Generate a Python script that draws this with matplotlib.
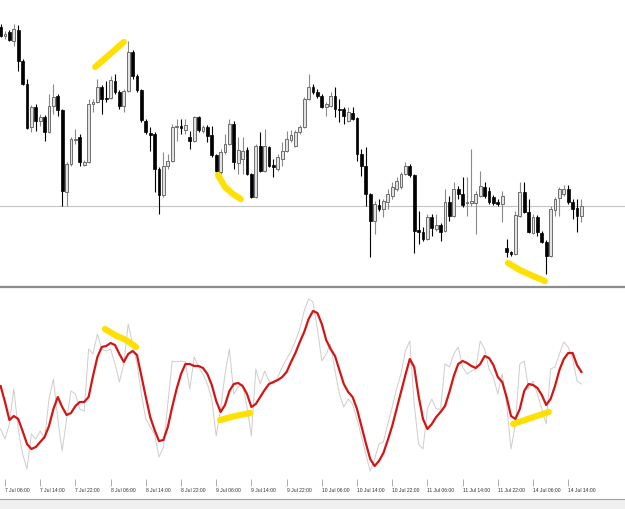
import numpy as np
import matplotlib
matplotlib.use('Agg')
import matplotlib.pyplot as plt
from matplotlib.lines import Line2D
from matplotlib.patches import Rectangle

# hourly candles, first one is 7 Jul 05:00 (price in points)
opens = [272, 263, 267, 258, 269, 238, 215, 172, 192, 178,
         182, 167, 193, 203, 189, 107, 135, 159, 162, 134,
         137, 195, 197, 212, 201, 201, 218, 207, 193, 208,
         247, 223, 209, 178, 166, 165, 130, 104, 133, 138,
         172, 173, 169, 162, 158, 182, 168, 172, 164, 144,
         127, 147, 155, 175, 136, 140, 149, 125, 102, 153,
         128, 152, 134, 130, 140, 148, 159, 153, 167, 172,
         200, 212, 207, 203, 192, 193, 203, 190, 190, 178,
         186, 181, 145, 133, 105, 78, 94, 90, 97, 103,
         110, 112, 125, 133, 124, 69, 67, 60, 82, 70,
         74, 68, 97, 83, 110, 105, 96, 96, 96, 103,
         112, 108, 102, 97, 95, 51, 47, 45, 83, 107,
         87, 66, 82, 66, 57, 43, 89, 101, 105, 110,
         97, 91, 83]
highs = [275, 268, 269, 275, 274, 240, 220, 194, 195, 185,
         184, 205, 215, 205, 190, 137, 162, 170, 165, 139,
         200, 200, 220, 214, 218, 223, 225, 209, 210, 258,
         249, 225, 210, 180, 172, 167, 132, 147, 145, 175,
         180, 180, 180, 168, 183, 183, 174, 174, 173, 145,
         150, 165, 180, 178, 162, 162, 152, 126, 155, 167,
         170, 153, 140, 145, 157, 168, 169, 169, 174, 202,
         225, 215, 210, 205, 197, 207, 212, 200, 192, 192,
         192, 182, 150, 152, 106, 98, 100, 100, 110, 117,
         122, 127, 137, 135, 125, 88, 72, 85, 85, 85,
         76, 110, 103, 117, 113, 122, 122, 150, 108, 128,
         117, 112, 104, 100, 108, 60, 48, 88, 117, 117,
         100, 85, 84, 68, 59, 93, 102, 112, 114, 114,
         100, 100, 100]
lows = [262, 260, 258, 253, 228, 214, 170, 167, 168, 173,
        158, 166, 185, 183, 93, 93, 133, 155, 133, 133,
        136, 187, 196, 185, 197, 200, 205, 190, 187, 207,
        220, 207, 177, 165, 148, 107, 85, 102, 130, 137,
        158, 165, 165, 150, 157, 167, 166, 157, 142, 127,
        125, 145, 154, 130, 125, 125, 124, 101, 101, 127,
        127, 132, 122, 128, 133, 147, 157, 152, 165, 171,
        199, 205, 201, 191, 183, 192, 182, 177, 175, 177,
        179, 138, 123, 93, 42, 65, 88, 82, 90, 100,
        108, 110, 124, 122, 46, 55, 58, 59, 63, 68,
        58, 67, 78, 82, 100, 92, 83, 93, 65, 102,
        101, 95, 94, 93, 77, 42, 43, 44, 82, 86,
        66, 65, 63, 56, 25, 42, 83, 83, 103, 95,
        80, 67, 77]
closes = [263, 265, 259, 270, 238, 215, 171, 192, 178, 182,
          167, 193, 202, 189, 108, 135, 160, 160, 137, 137,
          195, 197, 212, 200, 200, 219, 207, 193, 208, 247,
          223, 209, 179, 167, 164, 130, 104, 133, 138, 172,
          173, 171, 174, 158, 182, 169, 172, 163, 144, 128,
          147, 155, 175, 137, 149, 148, 125, 102, 153, 128,
          153, 133, 132, 142, 148, 160, 164, 167, 172, 200,
          212, 207, 203, 192, 195, 203, 190, 189, 183, 187,
          180, 145, 133, 105, 78, 95, 90, 98, 105, 112,
          118, 125, 133, 124, 68, 67, 60, 82, 71, 74,
          67, 97, 83, 110, 105, 94, 97, 98, 105, 113,
          103, 97, 96, 95, 103, 47, 45, 84, 107, 87,
          67, 82, 67, 57, 43, 90, 100, 110, 110, 97,
          90, 83, 93]

# oscillator: fast (grey) and smoothed (red)
osc_fast = [25, 20, 27.5, 45, 25, 12.5, 5, 22.5, 20, 24,
            20, 40, 50, 30, 14, 30, 44, 42.5, 35, 34,
            65, 62.5, 72.5, 65, 64, 65, 57.5, 48.5, 57.5, 77.5,
            67.5, 57.5, 42.5, 30, 26, 22.5, 11, 16, 37.5, 59,
            58.5, 59, 58.5, 45, 61, 56, 52.5, 47.5, 40, 21.5,
            35, 52.5, 65, 42.5, 46, 47.5, 36, 21.5, 55, 47.5,
            54, 49, 47.5, 51, 56, 60, 64, 69, 75, 84,
            90, 88.5, 75, 59, 62.5, 67.5, 54, 42.5, 36, 40,
            37.5, 30, 21.5, 12.5, 4, 10, 17.5, 18.5, 27.5, 36,
            45, 52.5, 64, 69, 37.5, 17.5, 15, 35, 40, 35,
            35, 57.5, 56, 62.5, 66, 56, 52.5, 54, 55, 69,
            65, 55, 51, 42.5, 52.5, 37.5, 15, 27.5, 57.5, 59,
            45, 49, 42.5, 35, 27.5, 55, 56, 62.5, 68.5, 66,
            60, 49, 47.5]
osc_slow = [46.5, 38.5, 29.5, 31.5, 30, 24, 17.5, 15, 16, 18.5,
            21, 26.5, 35, 41, 36, 32, 33, 36.5, 38.5, 38.5,
            41, 51.5, 61, 66, 66.5, 68, 67, 62.5, 58.5, 62.5,
            64, 62, 51.5, 41, 31, 24.5, 19, 19.5, 26, 36,
            45, 52.5, 57.5, 57.5, 56.5, 56.5, 55.5, 52.5, 47, 39,
            33.5, 37, 44, 47.5, 48, 46.5, 42.5, 36, 37.5, 41,
            44.5, 47.5, 48.5, 49.5, 51, 53.5, 58.5, 63, 68.5, 73.5,
            80, 84, 83, 77.5, 69.5, 65, 61.5, 54.5, 47.5, 43.5,
            41, 35, 26.5, 18, 10, 6.5, 9, 13, 19.5, 26.5,
            35, 43.5, 52, 60, 56, 41.5, 30, 25, 27.5, 31,
            33.5, 36.5, 43.5, 51.5, 57.5, 59, 58, 56.5, 55.5, 57.5,
            61.5, 60.5, 57, 51, 48.5, 41, 31.5, 30, 35, 44,
            47.5, 47, 45.5, 42, 37, 40, 46.5, 54.5, 60, 63,
            63, 57, 53.5]

level = 93  # grey horizontal line in the price panel

tick_labels = ['7 Jul 06:00', '7 Jul 14:00', '7 Jul 22:00', '8 Jul 06:00',
               '8 Jul 14:00', '8 Jul 22:00', '9 Jul 06:00', '9 Jul 14:00',
               '9 Jul 22:00', '10 Jul 06:00', '10 Jul 14:00', '10 Jul 22:00',
               '11 Jul 06:00', '11 Jul 14:00', '11 Jul 22:00', '14 Jul 06:00',
               '14 Jul 14:00']

# hand drawn yellow marks (bar index, value)
marks_price = [
    ([20.5, 27.0], [232, 257]),
    ([48.4, 50.0, 51.8, 53.6], [124, 112, 105, 100]),
    ([114.3, 117.0, 120.0, 122.7], [36, 29, 23, 18]),
]
marks_osc = [
    ([22.7, 25.0, 27.5, 29.8], [75, 72, 69.5, 66]),
    ([48.9, 52.3, 55.7], [29.5, 31.5, 33]),
    ([115.5, 119.5, 123.6], [27.5, 30.5, 33.5]),
]

idx = np.arange(len(closes)) - 1
o = np.array(opens)
h = np.array(highs)
l = np.array(lows)
c = np.array(closes)
up = c >= o

fig = plt.figure(figsize=(6.25, 5.1), dpi=100)
fig.patch.set_facecolor('white')
xlim = (-5 / 4.4, 620 / 4.4)

ax1 = fig.add_axes([0, 1 - 287 / 510, 1, 287 / 510])
ax1.set_xlim(*xlim)
ax1.set_ylim(13, 300)
ax1.axis('off')

ax1.axhline(level, color='#c4c4c4', lw=0.8, zorder=1)
ax1.vlines(idx[up], l[up], h[up], color='#8a8a8a', lw=0.8, zorder=2)
ax1.vlines(idx[~up], l[~up], h[~up], color='black', lw=0.8, zorder=2)
body = np.maximum(np.abs(c - o), 0.8)
ax1.bar(idx[up], body[up], bottom=np.minimum(o, c)[up], width=0.62,
        color='#e2e2e2', edgecolor='#6e6e6e', linewidth=0.7, zorder=3)
ax1.bar(idx[~up], body[~up], bottom=np.minimum(o, c)[~up], width=0.62,
        color='black', edgecolor='black', linewidth=0.5, zorder=3)
for xs, ys in marks_price:
    ax1.plot(xs, ys, color='#ffe000', lw=4.5, solid_capstyle='round', zorder=5)

ax2 = fig.add_axes([0, 30 / 510, 1, 190 / 510])
ax2.set_xlim(*xlim)
ax2.set_ylim(0, 95)
ax2.plot(idx, osc_fast, color='#cdcdcd', lw=0.7, zorder=2)
ax2.plot(idx, osc_slow, color='#d41515', lw=1.6, zorder=3)
for xs, ys in marks_osc:
    ax2.plot(xs, ys, color='#ffe000', lw=4.5, solid_capstyle='round', zorder=5)
for s in ax2.spines.values():
    s.set_visible(False)
ax2.set_yticks([])
ax2.set_xticks(range(0, 8 * len(tick_labels), 8))
ax2.set_xticklabels(tick_labels, fontsize=3.6, ha='left', color='#303030',
                    family='Liberation Sans')
ax2.tick_params(axis='x', length=5, width=0.5, color='#909090', pad=1)

# panel separator and bottom status strip
fig.add_artist(Line2D([0, 1], [1 - 288 / 510] * 2, color='#8c8c8c', lw=1.6))
fig.add_artist(Rectangle((0, 0), 1, 10 / 510, transform=fig.transFigure,
                         facecolor='#f0f0f0', edgecolor='none'))
fig.add_artist(Line2D([0, 1], [10 / 510] * 2, color='#a0a0a0', lw=0.8))

fig.savefig('out.png', dpi=100)
